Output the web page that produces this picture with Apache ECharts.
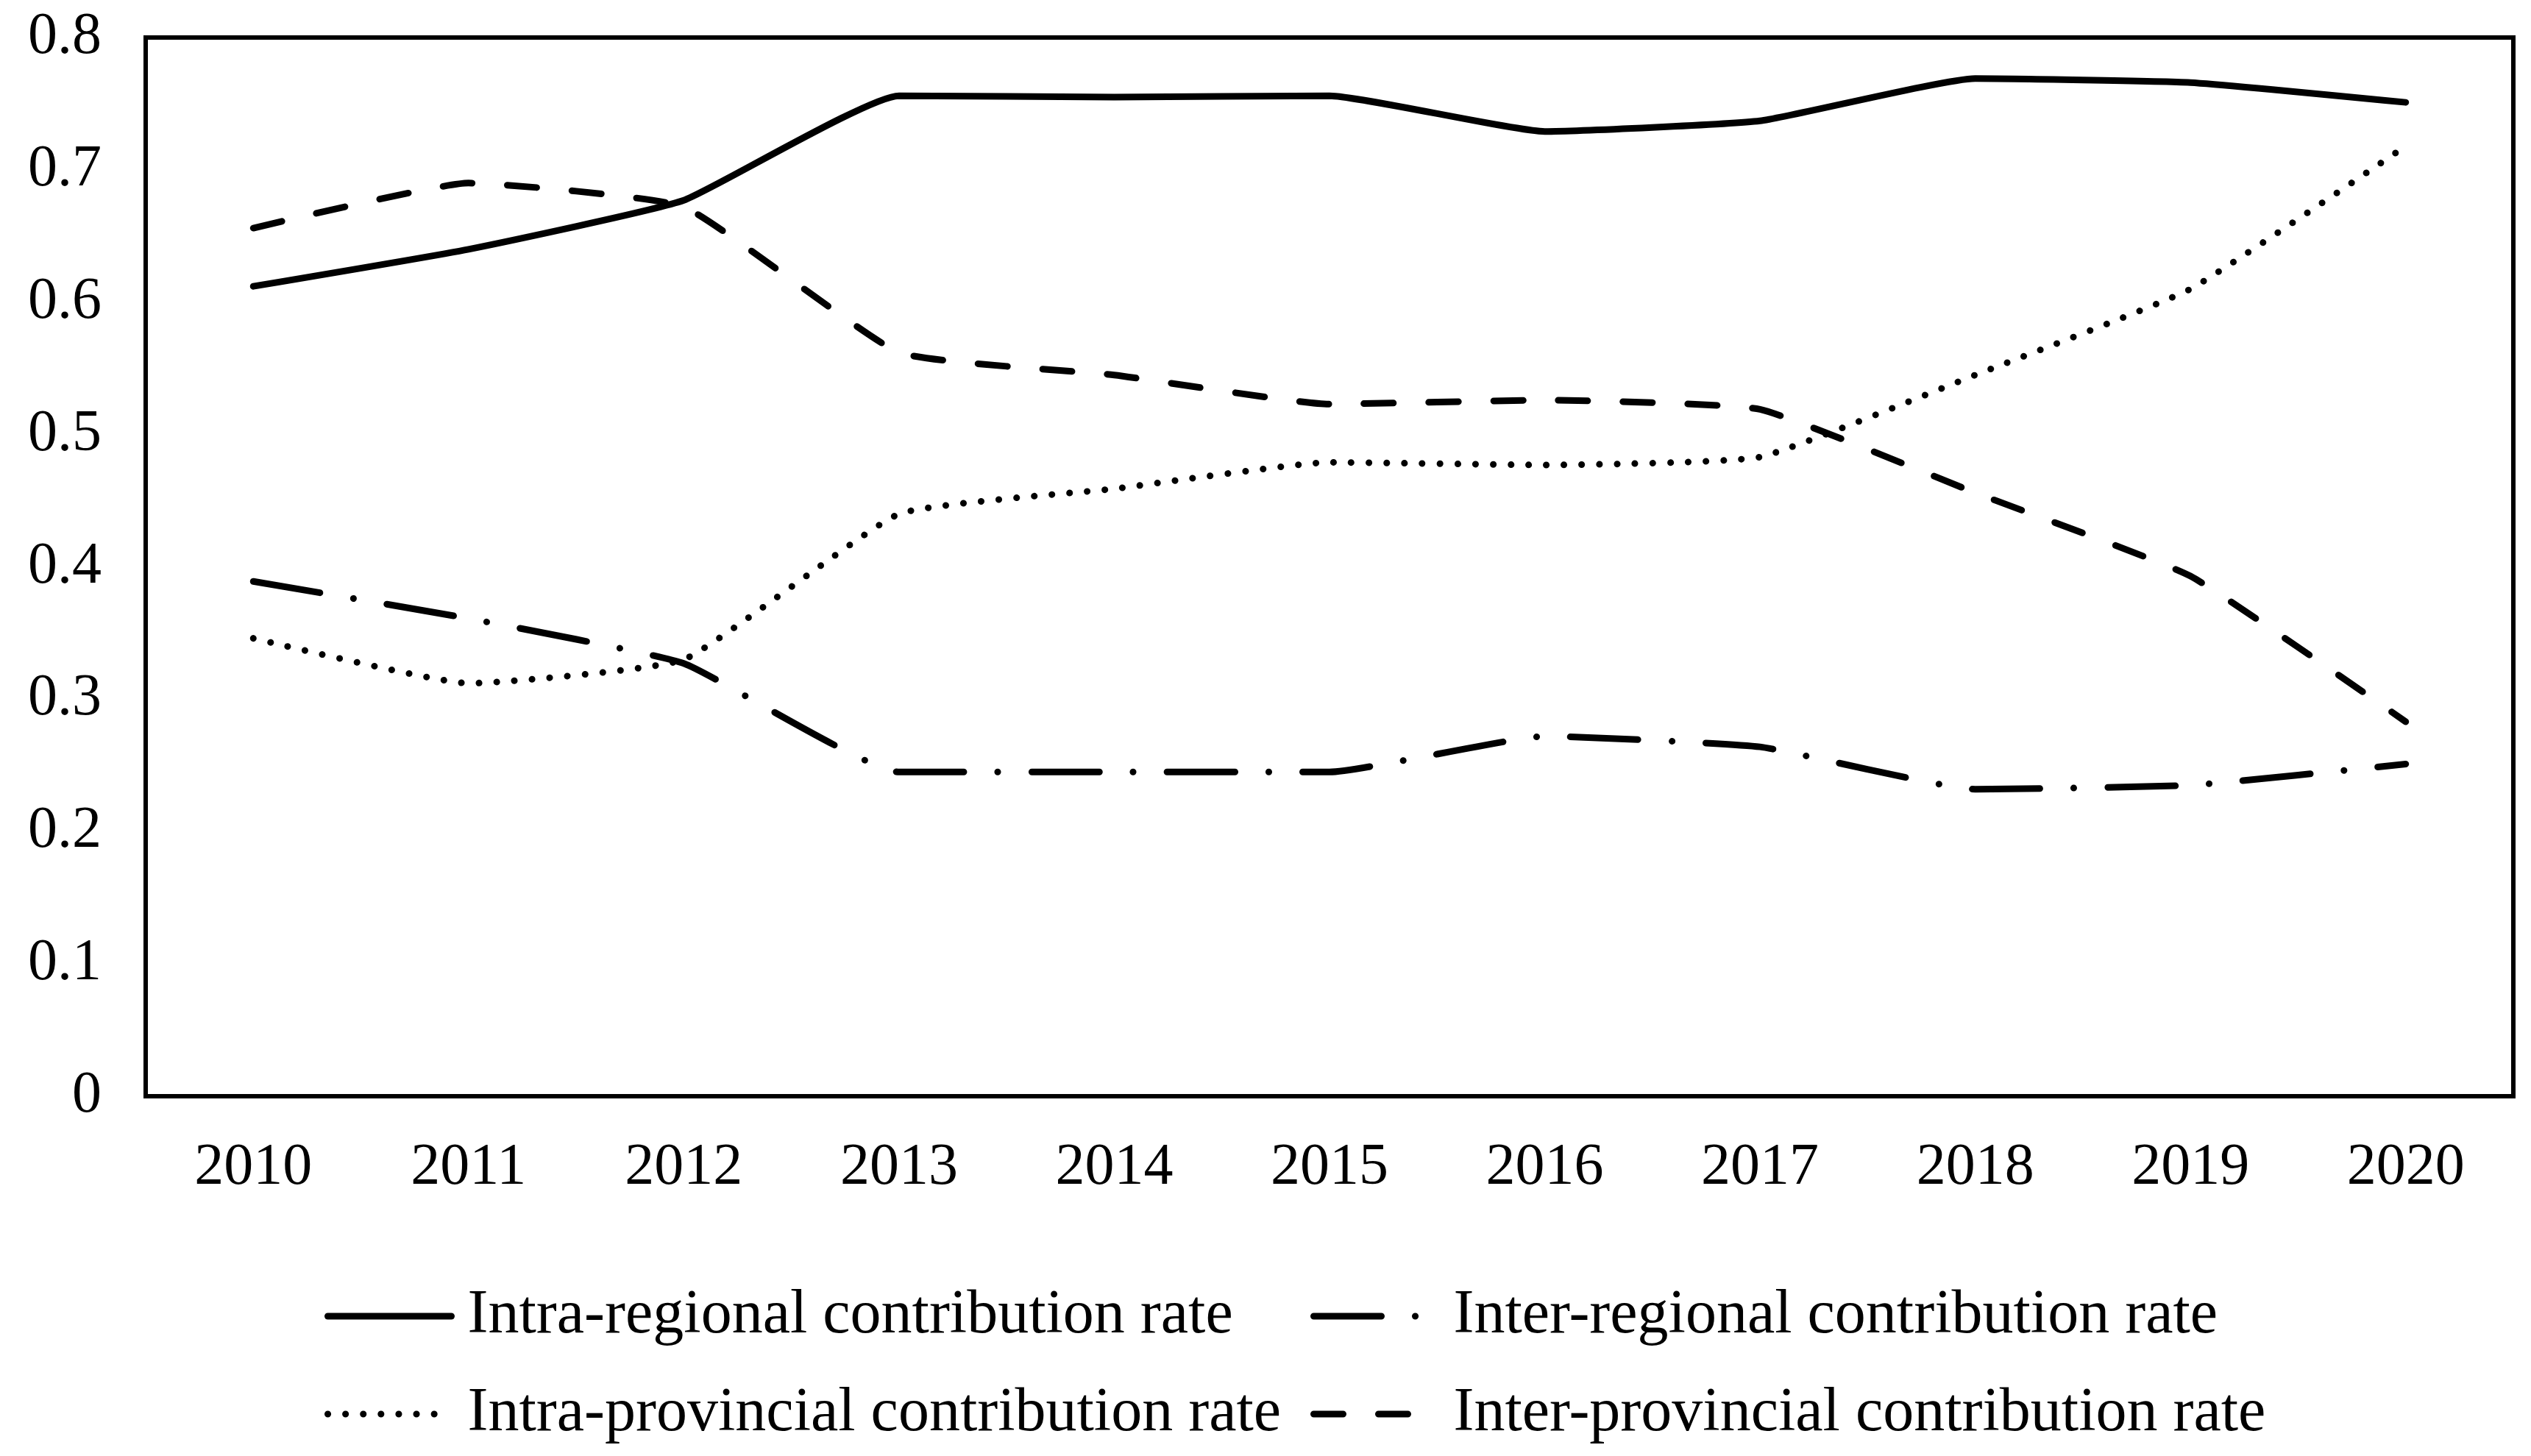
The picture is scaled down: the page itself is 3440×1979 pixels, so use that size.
<!DOCTYPE html>
<html>
<head>
<meta charset="utf-8">
<script src="https://cdn.jsdelivr.net/npm/echarts@6/dist/echarts.min.js"></script>
<style>
  html, body { margin: 0; padding: 0; background: #fff; }
  #chart { width: 3440px; height: 1979px; }
</style>
</head>
<body>
<div id="chart"></div>
<script>
  // data
  const years = ['2010', '2011', '2012', '2013', '2014', '2015', '2016', '2017', '2018', '2019', '2020']
  const intraRegional = [0.612, 0.640, 0.677, 0.756, 0.755, 0.756, 0.729, 0.737, 0.769, 0.766, 0.751]
  const interRegional = [0.389, 0.361, 0.327, 0.245, 0.245, 0.245, 0.272, 0.264, 0.232, 0.235, 0.251]
  const intraProvincial = [0.346, 0.312, 0.330, 0.440, 0.459, 0.479, 0.477, 0.483, 0.545, 0.610, 0.718]
  const interProvincial = [0.656, 0.690, 0.672, 0.562, 0.545, 0.523, 0.526, 0.519, 0.456, 0.393, 0.283]

  const fontFamily = '"Liberation Serif", "Times New Roman", serif'
  const chart = echarts.init(document.getElementById('chart'))

  function lineSeries (name, data, type) {
    return {
      name: name,
      type: 'line',
      data: data,
      smooth: 0.13,
      symbol: 'none',
      lineStyle: { color: '#000', width: 9, type: type, cap: 'round' },
      itemStyle: { color: '#000' }
    }
  }

  const legendBase = {
    orient: 'vertical',
    itemWidth: 168,
    itemHeight: 20,
    itemGap: 49,
    itemStyle: { opacity: 0 },
    lineStyle: { width: 9, type: 'inherit', cap: 'round' },
    textStyle: {
      fontFamily: fontFamily,
      fontSize: 84,
      color: '#000',
      lineHeight: 80,
      padding: [0, 0, 0, 17]
    }
  }

  chart.setOption({
    backgroundColor: '#fff',
    animation: false,
    grid: {
      left: 198,
      right: 24,
      top: 51,
      bottom: 489,
      show: true,
      borderColor: '#000',
      borderWidth: 6
    },
    legend: [
      Object.assign({}, legendBase, {
        left: 436,
        top: 1742,
        data: ['Intra-regional contribution rate', 'Intra-provincial contribution rate']
      }),
      Object.assign({}, legendBase, {
        left: 1776,
        top: 1742,
        data: ['Inter-regional contribution rate', 'Inter-provincial contribution rate']
      })
    ],
    xAxis: {
      type: 'category',
      data: years,
      boundaryGap: true,
      axisLine: { show: false },
      axisTick: { show: false },
      axisLabel: { fontFamily: fontFamily, fontSize: 80, color: '#000', margin: 58 }
    },
    yAxis: {
      type: 'value',
      min: 0,
      max: 0.8,
      interval: 0.1,
      splitLine: { show: false },
      axisLine: { show: false },
      axisTick: { show: false },
      axisLabel: { fontFamily: fontFamily, fontSize: 80, color: '#000', margin: 60 }
    },
    series: [
      lineSeries('Intra-regional contribution rate', intraRegional, 'solid'),
      lineSeries('Inter-regional contribution rate', interRegional, [92, 46, 0.1, 46]),
      lineSeries('Intra-provincial contribution rate', intraProvincial, [0.1, 24]),
      lineSeries('Inter-provincial contribution rate', interProvincial, [40, 48])
    ]
  })
</script>
</body>
</html>
